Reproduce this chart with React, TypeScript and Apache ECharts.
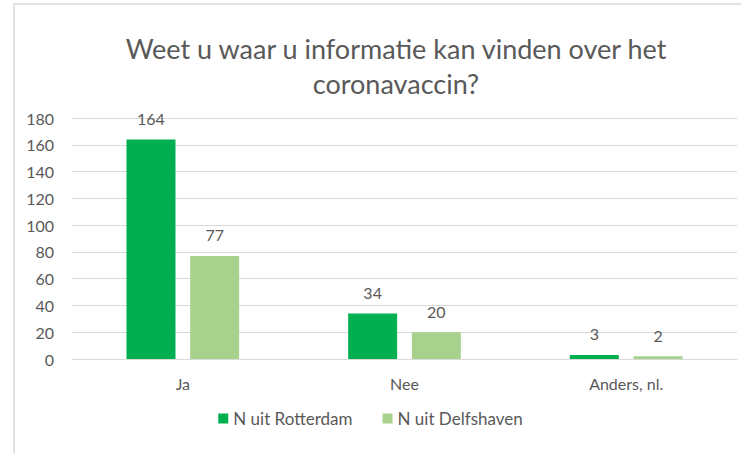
import React, { useEffect, useRef } from "react";
import * as echarts from "echarts";

const categories = ["Ja", "Nee", "Anders, nl."];
const rotterdam = [164, 34, 3];
const delfshaven = [77, 20, 2];
const seriesNames = ["N uit Rotterdam", "N uit Delfshaven"];
const titleText = "Weet u waar u informatie kan vinden over het\ncoronavaccin?";

export default function App() {
  const ref = useRef<HTMLDivElement>(null);
  useEffect(() => {
    if (!ref.current) return;
    const chart = echarts.init(ref.current, null, { renderer: "svg" });
    const font = "Lato, 'Open Sans', sans-serif";
    const labelStyle = { show: true, position: "top", distance: 13, color: "#595959", fontSize: 16, fontFamily: font };
    chart.setOption({
      animation: false,
      backgroundColor: "#ffffff",
      graphic: [
        { type: "rect", shape: { x: 14, y: 4, width: 800, height: 500 }, style: { fill: "none", stroke: "#d9d9d9", lineWidth: 1.5 }, silent: true },
      ],
      title: {
        text: titleText,
        left: 391,
        top: 26,
        textAlign: "center",
        textStyle: { color: "#595959", fontSize: 27, fontWeight: "normal", fontFamily: font, lineHeight: 35 },
      },
      legend: {
        data: seriesNames,
        bottom: 21,
        left: "center",
        itemWidth: 10,
        itemHeight: 10,
        itemGap: 30,
        icon: "rect",
        textStyle: { color: "#595959", fontSize: 17, fontFamily: font },
      },
      grid: { left: 72, right: 4, top: 118, bottom: 94 },
      xAxis: {
        type: "category",
        data: categories,
        axisLine: { lineStyle: { color: "#d9d9d9" } },
        axisTick: { show: false },
        axisLabel: { color: "#595959", fontSize: 16, fontFamily: font, margin: 16 },
      },
      yAxis: {
        type: "value",
        min: 0,
        max: 180,
        interval: 20,
        axisLine: { show: false },
        axisTick: { show: false },
        splitLine: { lineStyle: { color: "#d9d9d9" } },
        axisLabel: { color: "#595959", fontSize: 16, fontFamily: font, margin: 18 },
      },
      series: [
        { name: seriesNames[0], type: "bar", data: rotterdam, barWidth: 49, barGap: "30%", itemStyle: { color: "#00B050" }, label: labelStyle },
        { name: seriesNames[1], type: "bar", data: delfshaven, barWidth: 49, itemStyle: { color: "#A9D18E" }, label: labelStyle },
      ],
    });
    return () => chart.dispose();
  }, []);
  return <div ref={ref} style={{ position: "absolute", left: 0, top: 0, width: 741, height: 453 }} />;
}
